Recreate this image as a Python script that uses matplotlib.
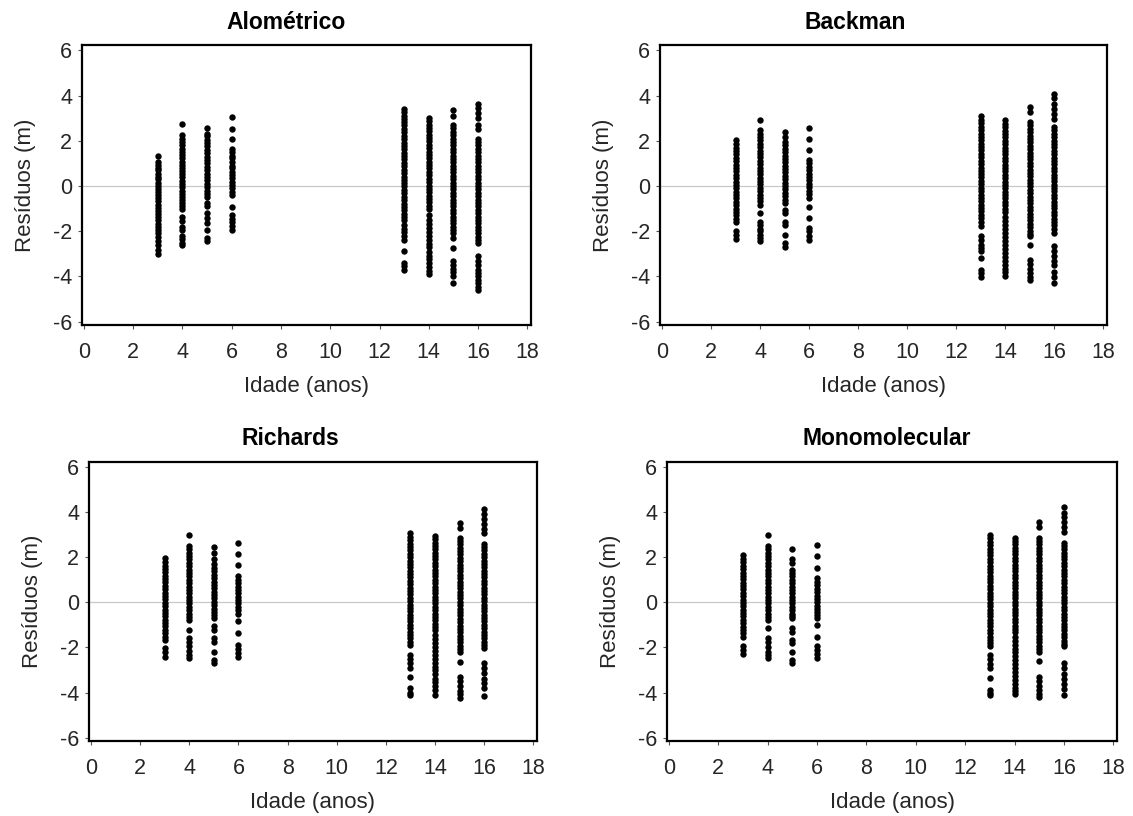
import matplotlib
matplotlib.use("Agg")
import matplotlib.pyplot as plt

plt.rcParams['font.family'] = ['Liberation Sans', 'DejaVu Sans']
plt.rcParams['axes.unicode_minus'] = False

# idades (anos) onde os residuos foram medidos
idades = [3, 4, 5, 6, 13, 14, 15, 16]

# residuos (m) por idade, para cada modelo
alometrico = [
    [1.32, 1.08, 0.95, 0.82, 0.7, 0.55, 0.42, 0.3, 0.15, 0.02, -0.12, -0.25, -0.4, -0.55, -0.68, -0.82,
     -0.95, -1.1, -1.24, -1.38, -1.52, -1.66, -1.8, -1.95, -2.1, -2.25, -2.42, -2.62, -2.82, -3.0],
    [2.76, 2.25, 2.1, 1.95, 1.8, 1.66, 1.52, 1.38, 1.22, 1.08, 0.95, 0.8, 0.66, 0.52, 0.38, 0.22, 0.08,
     -0.06, -0.2, -0.34, -0.48, -0.62, -0.76, -0.9, -1.0, -1.35, -1.55, -1.8, -1.95, -2.2, -2.35, -2.5, -2.62],
    [2.58, 2.32, 2.2, 2.05, 1.9, 1.75, 1.6, 1.45, 1.3, 1.15, 1.0, 0.85, 0.7, 0.55, 0.4, 0.25, 0.1,
     -0.05, -0.2, -0.35, -0.48, -0.76, -0.9, -1.2, -1.42, -1.64, -1.94, -2.3, -2.45],
    [3.05, 2.54, 2.07, 1.66, 1.5, 1.35, 1.22, 1.05, 0.9, 0.78, 0.63, 0.5, 0.35, 0.2, 0.05, -0.1, -0.25,
     -0.4, -0.91, -1.28, -1.45, -1.6, -1.78, -1.94],
    [3.42, 3.28, 3.12, 2.98, 2.82, 2.68, 2.52, 2.38, 2.22, 2.08, 1.92, 1.78, 1.62, 1.48, 1.32, 1.18, 1.02,
     0.88, 0.72, 0.58, 0.42, 0.28, 0.12, -0.02, -0.18, -0.32, -0.48, -0.62, -0.78, -0.92, -1.08, -1.22,
     -1.38, -1.52, -1.72, -1.88, -2.05, -2.23, -2.38, -2.89, -3.41, -3.55, -3.7],
    [3.02, 2.88, 2.72, 2.58, 2.42, 2.28, 2.12, 1.98, 1.82, 1.68, 1.52, 1.38, 1.22, 1.08, 0.92, 0.78, 0.62,
     0.48, 0.32, 0.18, 0.02, -0.12, -0.28, -0.42, -0.58, -0.72, -0.88, -1.02, -1.3, -1.5, -1.68, -1.85,
     -2.02, -2.2, -2.38, -2.55, -2.72, -2.9, -3.08, -3.25, -3.42, -3.58, -3.75, -3.88],
    [3.35, 3.08, 2.69, 2.55, 2.4, 2.25, 2.1, 1.95, 1.8, 1.65, 1.5, 1.35, 1.2, 1.05, 0.9, 0.75, 0.6, 0.45,
     0.3, 0.15, 0.0, -0.15, -0.3, -0.45, -0.6, -0.75, -0.9, -1.05, -1.2, -1.35, -1.5, -1.65, -1.8, -1.95,
     -2.1, -2.28, -2.75, -3.33, -3.5, -3.65, -3.8, -3.99, -4.29],
    [3.64, 3.45, 3.22, 3.0, 2.69, 2.54, 2.1, 1.95, 1.8, 1.65, 1.5, 1.35, 1.2, 1.05, 0.9, 0.75, 0.6, 0.45,
     0.3, 0.15, 0.0, -0.15, -0.3, -0.45, -0.6, -0.75, -0.9, -1.05, -1.2, -1.35, -1.5, -1.65, -1.8, -1.95,
     -2.1, -2.25, -2.4, -2.53, -3.11, -3.33, -3.5, -3.7, -3.85, -3.99, -4.15, -4.29, -4.45, -4.58],
]

backman = [
    [2.03, 1.85, 1.7, 1.55, 1.4, 1.25, 1.1, 0.95, 0.8, 0.65, 0.5, 0.35, 0.2, 0.05, -0.1, -0.25, -0.4,
     -0.55, -0.7, -0.85, -1.0, -1.15, -1.3, -1.45, -1.6, -2.0, -2.16, -2.35],
    [2.91, 2.47, 2.32, 2.17, 2.02, 1.87, 1.72, 1.57, 1.42, 1.27, 1.12, 0.97, 0.82, 0.67, 0.52, 0.37, 0.22,
     0.07, -0.08, -0.23, -0.38, -0.53, -0.68, -0.84, -1.2, -1.57, -1.72, -1.88, -2.0, -2.15, -2.3, -2.45],
    [2.39, 2.15, 1.95, 1.8, 1.65, 1.5, 1.35, 1.2, 1.05, 0.9, 0.75, 0.6, 0.45, 0.3, 0.15, 0.0, -0.15, -0.3,
     -0.45, -0.6, -0.76, -1.06, -1.2, -1.57, -1.72, -2.16, -2.53, -2.7],
    [2.58, 2.06, 1.59, 1.15, 1.0, 0.85, 0.7, 0.55, 0.4, 0.25, 0.1, -0.05, -0.2, -0.35, -0.54, -0.91,
     -1.42, -1.86, -2.0, -2.2, -2.38],
    [3.08, 2.93, 2.78, 2.62, 2.48, 2.32, 2.18, 2.02, 1.88, 1.72, 1.58, 1.42, 1.28, 1.12, 0.98, 0.82, 0.68,
     0.52, 0.38, 0.22, 0.08, -0.08, -0.22, -0.38, -0.52, -0.68, -0.82, -0.98, -1.12, -1.28, -1.42, -1.58,
     -1.79, -2.23, -2.4, -2.6, -2.75, -2.88, -3.19, -3.7, -3.85, -4.02],
    [2.91, 2.76, 2.6, 2.45, 2.3, 2.15, 2.0, 1.85, 1.7, 1.55, 1.4, 1.25, 1.1, 0.95, 0.8, 0.65, 0.5, 0.35,
     0.2, 0.05, -0.1, -0.25, -0.4, -0.55, -0.7, -0.85, -1.0, -1.15, -1.35, -1.55, -1.72, -1.9, -2.08,
     -2.25, -2.42, -2.6, -2.78, -2.95, -3.12, -3.3, -3.48, -3.65, -3.82, -4.0],
    [3.49, 3.27, 2.83, 2.68, 2.53, 2.38, 2.23, 2.08, 1.93, 1.78, 1.63, 1.48, 1.33, 1.18, 1.03, 0.88, 0.73,
     0.58, 0.43, 0.28, 0.13, -0.02, -0.17, -0.32, -0.47, -0.62, -0.77, -0.92, -1.07, -1.22, -1.37, -1.52,
     -1.67, -1.82, -1.97, -2.12, -2.23, -2.6, -3.26, -3.45, -3.65, -3.85, -4.02, -4.17],
    [4.08, 3.88, 3.65, 3.42, 3.2, 2.98, 2.61, 2.46, 2.31, 2.16, 2.01, 1.86, 1.71, 1.56, 1.41, 1.26, 1.11,
     0.96, 0.81, 0.66, 0.51, 0.36, 0.21, 0.06, -0.09, -0.24, -0.39, -0.54, -0.69, -0.84, -0.99, -1.14,
     -1.29, -1.44, -1.59, -1.74, -1.89, -2.09, -2.67, -2.88, -3.1, -3.3, -3.5, -3.8, -4.02, -4.29],
]

richards = [
    [1.95, 1.78, 1.63, 1.48, 1.33, 1.18, 1.03, 0.88, 0.73, 0.58, 0.43, 0.28, 0.13, -0.02, -0.17, -0.32,
     -0.47, -0.62, -0.77, -0.92, -1.07, -1.22, -1.37, -1.52, -1.67, -2.04, -2.22, -2.41],
    [2.98, 2.5, 2.35, 2.2, 2.05, 1.9, 1.75, 1.6, 1.45, 1.3, 1.15, 1.0, 0.85, 0.7, 0.55, 0.4, 0.25, 0.1,
     -0.05, -0.2, -0.35, -0.5, -0.65, -0.8, -1.22, -1.59, -1.75, -1.95, -2.18, -2.32, -2.46],
    [2.43, 2.2, 1.9, 1.68, 1.52, 1.37, 1.22, 1.07, 0.92, 0.77, 0.62, 0.47, 0.32, 0.17, 0.02, -0.13, -0.28,
     -0.43, -0.58, -0.7, -1.07, -1.22, -1.59, -1.74, -2.19, -2.56, -2.71],
    [2.62, 2.13, 1.64, 1.16, 1.0, 0.85, 0.7, 0.55, 0.4, 0.25, 0.1, -0.05, -0.2, -0.35, -0.52, -0.85,
     -1.37, -1.89, -2.05, -2.25, -2.41],
    [3.05, 2.9, 2.75, 2.6, 2.45, 2.3, 2.15, 2.0, 1.85, 1.7, 1.55, 1.4, 1.25, 1.1, 0.95, 0.8, 0.65, 0.5,
     0.35, 0.2, 0.05, -0.1, -0.25, -0.4, -0.55, -0.7, -0.85, -1.0, -1.15, -1.3, -1.45, -1.6, -1.75, -1.89,
     -2.34, -2.5, -2.7, -2.93, -3.3, -3.82, -4.0, -4.12],
    [2.95, 2.8, 2.65, 2.5, 2.35, 2.2, 2.05, 1.9, 1.75, 1.6, 1.45, 1.3, 1.15, 1.0, 0.85, 0.7, 0.55, 0.4,
     0.25, 0.1, -0.05, -0.2, -0.35, -0.5, -0.65, -0.8, -0.95, -1.1, -1.25, -1.44, -1.62, -1.8, -1.98,
     -2.15, -2.32, -2.5, -2.68, -2.85, -3.02, -3.2, -3.38, -3.55, -3.72, -3.9, -4.09],
    [3.51, 3.3, 2.87, 2.72, 2.57, 2.42, 2.27, 2.12, 1.97, 1.82, 1.67, 1.52, 1.37, 1.22, 1.07, 0.92, 0.77,
     0.62, 0.47, 0.32, 0.17, 0.02, -0.13, -0.28, -0.43, -0.58, -0.73, -0.88, -1.03, -1.18, -1.33, -1.48,
     -1.63, -1.78, -1.93, -2.08, -2.19, -2.63, -3.3, -3.5, -3.7, -3.92, -4.08, -4.24],
    [4.14, 3.92, 3.7, 3.48, 3.26, 3.05, 2.6, 2.45, 2.3, 2.15, 2.0, 1.85, 1.7, 1.55, 1.4, 1.25, 1.1, 0.95,
     0.8, 0.65, 0.5, 0.35, 0.2, 0.05, -0.1, -0.25, -0.4, -0.55, -0.7, -0.85, -1.0, -1.15, -1.3, -1.45,
     -1.6, -1.75, -1.9, -2.04, -2.71, -2.92, -3.15, -3.38, -3.6, -3.82, -4.15],
]

monomolecular = [
    [2.1, 1.92, 1.77, 1.62, 1.47, 1.32, 1.17, 1.02, 0.87, 0.72, 0.57, 0.42, 0.27, 0.12, -0.03, -0.18,
     -0.33, -0.48, -0.63, -0.78, -0.93, -1.08, -1.23, -1.38, -1.56, -1.96, -2.12, -2.31],
    [2.99, 2.5, 2.35, 2.2, 2.05, 1.9, 1.75, 1.6, 1.45, 1.3, 1.15, 1.0, 0.85, 0.7, 0.55, 0.4, 0.25, 0.1,
     -0.05, -0.2, -0.35, -0.5, -0.65, -0.77, -1.15, -1.6, -1.75, -1.98, -2.2, -2.35, -2.46],
    [2.38, 1.9, 1.75, 1.45, 1.3, 1.15, 1.0, 0.85, 0.7, 0.55, 0.4, 0.25, 0.1, -0.05, -0.2, -0.35, -0.5,
     -0.62, -0.7, -1.15, -1.3, -1.67, -1.82, -2.19, -2.56, -2.71],
    [2.54, 2.05, 1.53, 1.06, 0.9, 0.75, 0.6, 0.45, 0.3, 0.15, 0.0, -0.15, -0.3, -0.45, -0.58, -0.7, -1.0,
     -1.52, -1.96, -2.12, -2.3, -2.49],
    [2.98, 2.83, 2.68, 2.53, 2.38, 2.23, 2.08, 1.93, 1.78, 1.63, 1.48, 1.33, 1.18, 1.03, 0.88, 0.73, 0.58,
     0.43, 0.28, 0.13, -0.02, -0.17, -0.32, -0.47, -0.62, -0.77, -0.92, -1.07, -1.22, -1.37, -1.52, -1.67,
     -1.82, -1.96, -2.34, -2.5, -2.72, -2.93, -3.35, -3.9, -4.02, -4.12],
    [2.87, 2.72, 2.57, 2.42, 2.27, 2.12, 1.97, 1.82, 1.67, 1.52, 1.37, 1.22, 1.07, 0.92, 0.77, 0.62, 0.47,
     0.32, 0.17, 0.02, -0.13, -0.28, -0.43, -0.58, -0.73, -0.88, -1.03, -1.18, -1.33, -1.52, -1.7, -1.88,
     -2.05, -2.22, -2.4, -2.58, -2.75, -2.92, -3.1, -3.28, -3.45, -3.62, -3.8, -3.95, -4.05],
    [3.54, 3.32, 2.87, 2.72, 2.57, 2.42, 2.27, 2.12, 1.97, 1.82, 1.67, 1.52, 1.37, 1.22, 1.07, 0.92, 0.77,
     0.62, 0.47, 0.32, 0.17, 0.02, -0.13, -0.28, -0.43, -0.58, -0.73, -0.88, -1.03, -1.18, -1.33, -1.48,
     -1.63, -1.78, -1.93, -2.08, -2.19, -2.6, -3.3, -3.5, -3.7, -3.9, -4.05, -4.2],
    [4.21, 3.98, 3.76, 3.54, 3.32, 3.13, 2.65, 2.5, 2.35, 2.2, 2.05, 1.9, 1.75, 1.6, 1.45, 1.3, 1.15, 1.0,
     0.85, 0.7, 0.55, 0.4, 0.25, 0.1, -0.05, -0.2, -0.35, -0.5, -0.65, -0.8, -0.95, -1.1, -1.25, -1.4,
     -1.55, -1.7, -1.85, -1.96, -2.71, -2.92, -3.18, -3.4, -3.62, -3.85, -4.12],
]

modelos = ["Alométrico", "Backman", "Richards", "Monomolecular"]
residuos = [alometrico, backman, richards, monomolecular]

W, H = 1133, 816
fig = plt.figure(figsize=(W / 100, H / 100), dpi=100)

# caixas dos paineis em pixels: esquerda, direita, topo, base
caixas = [(82, 531, 45.5, 325), (660, 1107, 45.5, 325),
          (89, 537, 462, 741), (667, 1117, 462, 741)]
# posicao horizontal do titulo em fracao do eixo
pos_titulo = [0.454, 0.436, 0.449, 0.489]

texto = '#262626'

for nome, dados, (l, r, t, b), xt in zip(modelos, residuos, caixas, pos_titulo):
    ax = fig.add_axes([l / W, 1 - b / H, (r - l) / W, (b - t) / H])
    ax.axhline(0, color='#c8c8c8', lw=0.9, zorder=1)
    for idade, vals in zip(idades, dados):
        ax.plot([idade] * len(vals), vals, 'o', color='black', ms=4.6, mew=0, zorder=3)

    ax.set_xlim(-0.08, 18.15)
    ax.set_ylim(-6.15, 6.22)
    ax.set_xticks(range(0, 19, 2))
    ax.set_yticks(range(-6, 7, 2))
    ax.tick_params(length=3, width=0.8, colors='#555555', labelcolor=texto,
                   labelsize=15.5)
    ax.tick_params(axis='x', pad=9.5)
    ax.tick_params(axis='y', pad=4)
    for s in ax.spines.values():
        s.set_linewidth(1.6)
        s.set_color('black')

    ax.text(xt, 1.084, nome, transform=ax.transAxes, ha='center', va='center',
            fontsize=16.5, fontweight='bold', color='black')
    ax.set_xlabel('Idade (anos)', fontsize=16, color=texto, labelpad=9)
    ax.set_ylabel('Resíduos (m)', fontsize=16, color=texto, labelpad=12)

fig.savefig('out.png', dpi=100)
